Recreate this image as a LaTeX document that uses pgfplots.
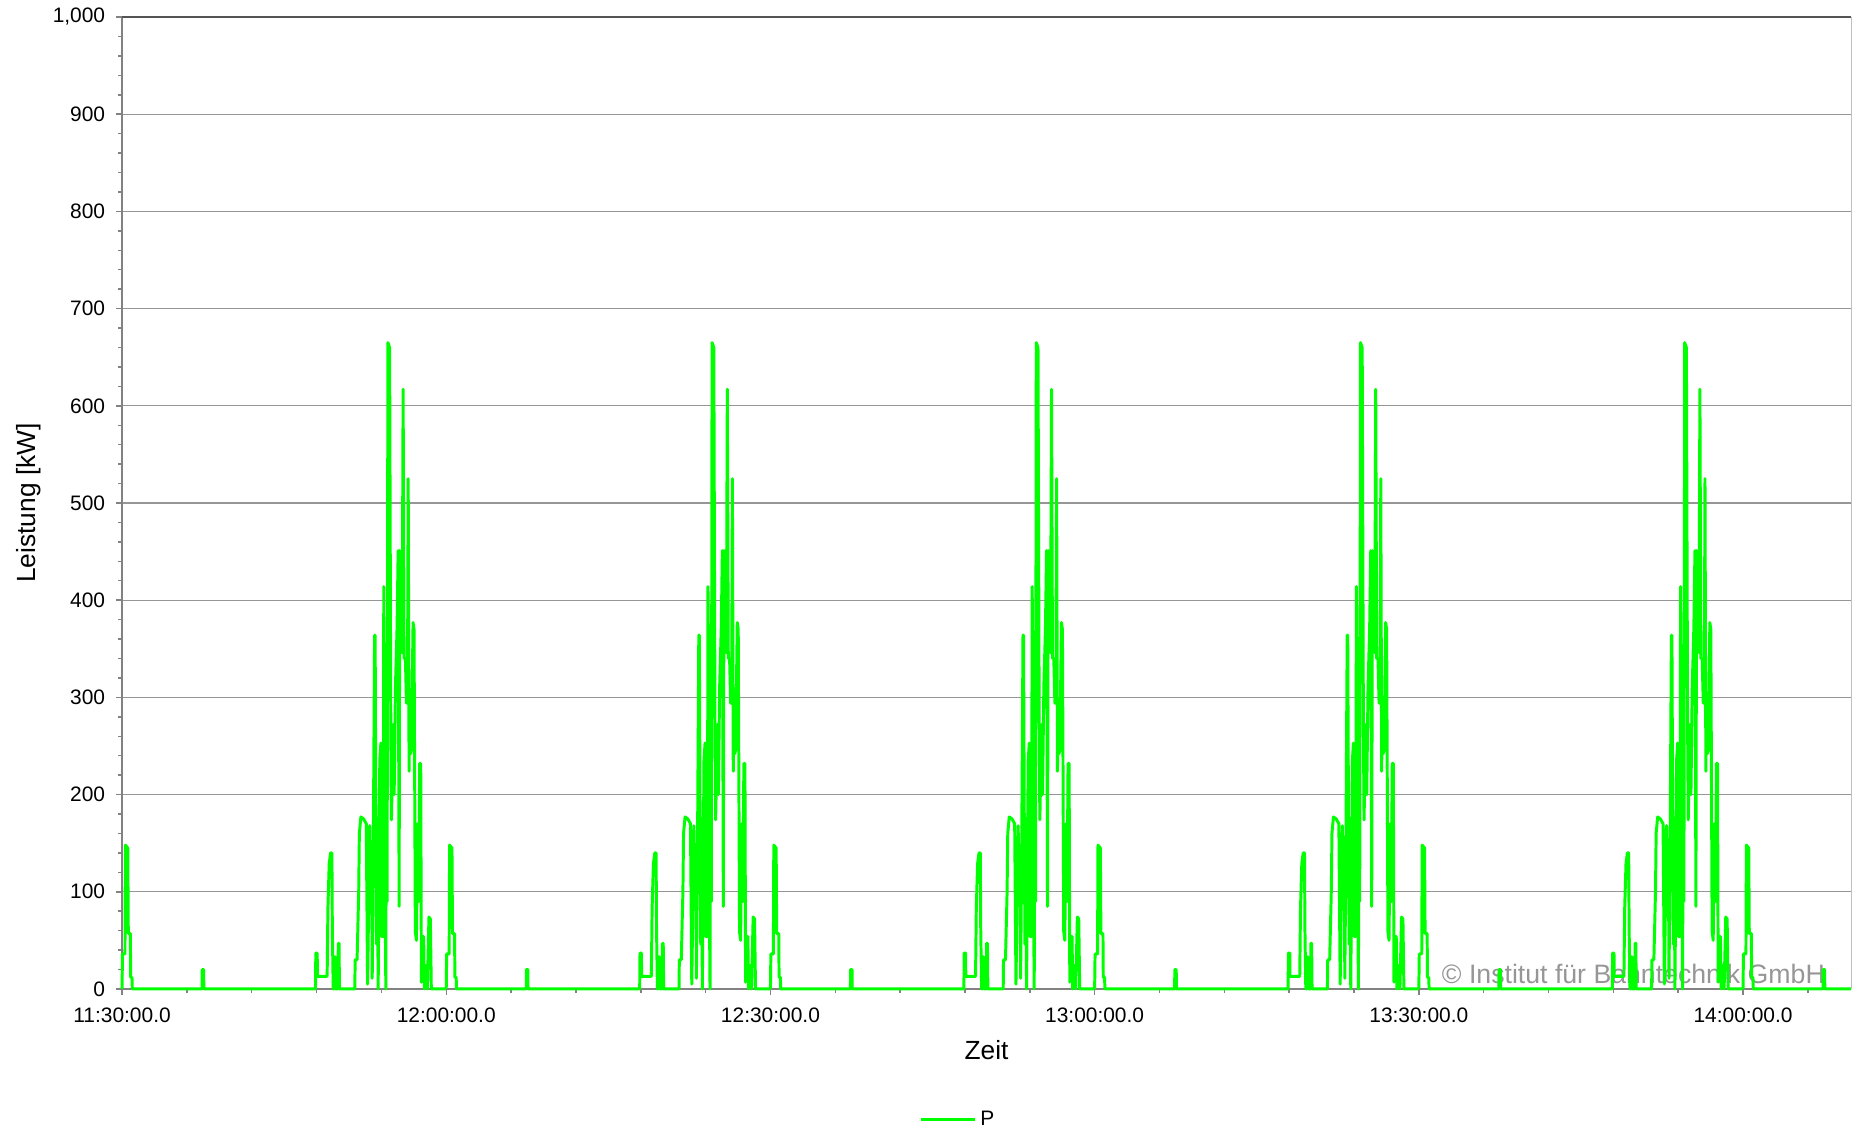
\documentclass[border=0pt]{standalone}
\usepackage{fontspec}
\setmainfont{Liberation Sans}
\usepackage{pgfplots}
\usepackage{pgfplotstable}
\pgfplotsset{compat=1.18}
\definecolor{pgreen}{RGB}{0,255,0}
\definecolor{gridgray}{RGB}{150,150,150}
\definecolor{axgray}{RGB}{130,130,130}
\definecolor{topgray}{RGB}{85,85,85}
\definecolor{wmgray}{RGB}{150,150,150}

% one 30-minute cycle (minutes after cycle start, kW)
\pgfplotstableread{
t p
0.00 0
0.04 36
0.27 36
0.31 148
0.53 145
0.58 57
0.77 57
0.80 12
0.92 12
0.95 0
7.40 0
7.42 20
7.55 20
7.57 0
17.90 0
17.93 37
18.06 37
18.08 13
18.98 13
19.05 83
19.17 129
19.30 140
19.42 140
19.46 62
19.54 0
19.62 0
19.65 33
19.74 33
19.77 0
19.98 0
20.01 47
20.08 47
20.12 0
21.54 0
21.57 30
21.75 30
21.90 100
21.96 160
22.10 177
22.35 175
22.60 170
22.72 5
22.92 168
23.02 111
23.09 148
23.15 11
23.24 124
23.37 364
23.42 364
23.49 176
23.55 46
23.61 176
23.70 0
23.76 89
23.85 235
23.95 253
24.01 54
24.16 54
24.22 414
24.30 300
24.36 72
24.41 0
24.47 303
24.53 90
24.60 665
24.76 660
24.87 272
24.93 174
25.09 272
25.18 200
25.30 311
25.45 372
25.55 451
25.64 85
25.70 451
25.79 372
25.92 346
26.01 617
26.10 340
26.22 340
26.32 294
26.41 294
26.48 525
26.56 224
26.62 298
26.70 242
26.78 246
26.93 377
27.02 370
27.14 59
27.24 50
27.35 170
27.45 90
27.54 232
27.64 232
27.70 7
27.79 54
27.91 54
27.97 0
28.07 24
28.20 24
28.25 0
28.40 74
28.53 72
28.62 0
30.00 0
}\cycle

% last partial cycle (14:00 to 14:10)
\pgfplotstableread{
t p
0.00 0
0.04 36
0.27 36
0.31 148
0.53 145
0.58 57
0.77 57
0.80 12
0.92 12
0.95 0
7.40 0
7.42 20
7.55 20
7.57 0
10.00 0
}\tailcycle

\begin{document}
\begin{tikzpicture}
\useasboundingbox (-65.9pt,-75.6pt) rectangle (934.1pt,534pt);
\begin{axis}[
  name=ax,
  at={(0,0)}, anchor=south west,
  scale only axis,
  width=933.6pt, height=524.8pt,
  xmin=0, xmax=160, ymin=0, ymax=1000,
  clip=false,
  axis x line*=bottom, axis y line*=left,
  axis line style={axgray, line width=1pt},
  xtick={0,30,60,90,120,150},
  xticklabels={11:30:00.0,12:00:00.0,12:30:00.0,13:00:00.0,13:30:00.0,14:00:00.0},
  minor xtick={6,12,...,156},
  ytick={0,100,...,1000},
  minor y tick num=4,
  tick align=outside,
  major tick length=3.2pt, minor tick length=2.2pt,
  every tick/.style={axgray, line width=0.8pt},
  ymajorgrids,
  major grid style={gridgray, line width=0.7pt},
  /pgf/number format/assume math mode=true,
  /pgf/number format/1000 sep={,},
  tick label style={font=\fontsize{11.3}{13}\selectfont, black},
  xticklabel style={yshift=-3.6pt},
  yticklabel style={xshift=-2.4pt},
  xlabel={Zeit},
  xlabel style={font=\fontsize{14.2}{16}\selectfont, at={(axis description cs:0.5,-0.063)}, anchor=center},
  ylabel={Leistung [kW]},
  ylabel style={font=\fontsize{14.2}{16}\selectfont, at={(axis description cs:-0.054,0.5)}, anchor=center},
  legend style={draw=none, fill=none, at={(0.484,-0.134)}, anchor=center,
    font=\fontsize{11.3}{13}\selectfont},
  legend image code/.code={\draw[#1] (0pt,0pt) -- (29pt,0pt);},
]
\node[anchor=base east, text=wmgray, font=\fontsize{14.4}{16}\selectfont, inner sep=0pt]
  at (axis cs:157.6,6) {© Institut für Bahntechnik GmbH};
\addplot[pgreen, line width=1.6pt, line join=round, no markers] table[x expr=\thisrow{t}+0, y=p] {\cycle};
\addlegendentry{P}
\addplot[pgreen, line width=1.6pt, line join=round, no markers, forget plot] table[x expr=\thisrow{t}+30, y=p] {\cycle};
\addplot[pgreen, line width=1.6pt, line join=round, no markers, forget plot] table[x expr=\thisrow{t}+60, y=p] {\cycle};
\addplot[pgreen, line width=1.6pt, line join=round, no markers, forget plot] table[x expr=\thisrow{t}+90, y=p] {\cycle};
\addplot[pgreen, line width=1.6pt, line join=round, no markers, forget plot] table[x expr=\thisrow{t}+120, y=p] {\cycle};
\addplot[pgreen, line width=1.6pt, line join=round, no markers, forget plot] table[x expr=\thisrow{t}+150, y=p] {\tailcycle};
\end{axis}
\draw[topgray, line width=1pt] (ax.north west) -- (ax.north east);
\draw[black!25, line width=0.6pt] (ax.north east) -- (ax.south east);
\end{tikzpicture}
\end{document}
